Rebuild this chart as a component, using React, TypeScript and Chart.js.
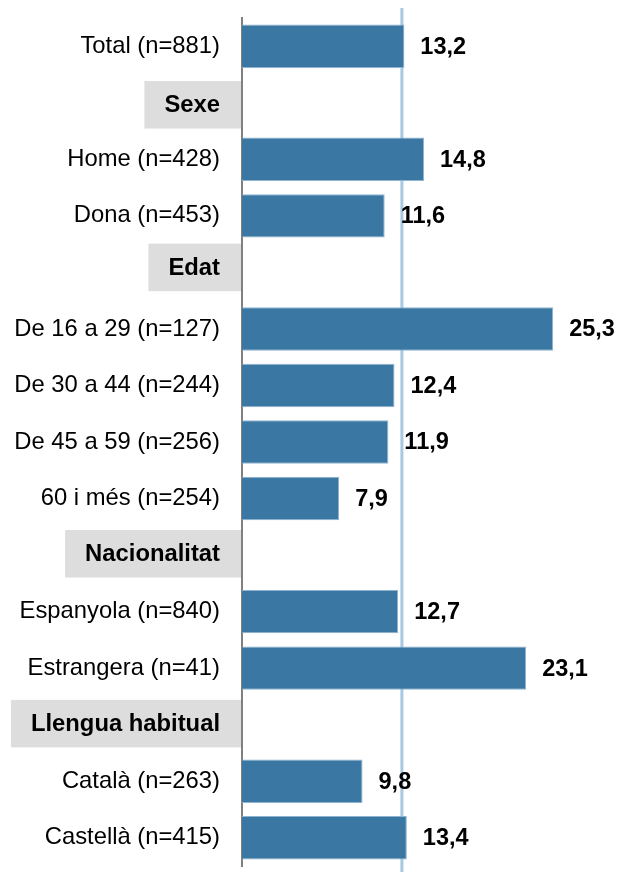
import React, { useEffect, useRef } from "react";
import { Chart, registerables } from "chart.js";

Chart.register(...registerables);

const categories = [
  "Total (n=881)",
  "Sexe",
  "Home (n=428)",
  "Dona (n=453)",
  "Edat",
  "De 16 a 29 (n=127)",
  "De 30 a 44 (n=244)",
  "De 45 a 59 (n=256)",
  "60 i més (n=254)",
  "Nacionalitat",
  "Espanyola (n=840)",
  "Estrangera (n=41)",
  "Llengua habitual",
  "Català (n=263)",
  "Castellà (n=415)",
];

const values: (number | null)[] = [
  13.2, null, 14.8, 11.6, null, 25.3, 12.4, 11.9, 7.9, null, 12.7, 23.1, null, 9.8, 13.4,
];

const sectionHeaders = ["Sexe", "Edat", "Nacionalitat", "Llengua habitual"];
const referenceValue = 13.0;
const xMin = 0;
const xMax = 30;

// styling / layout constants
const FONT = "'Liberation Sans', Arial, Helvetica, sans-serif";
const FONT_SIZE = 23.8;
const VALUE_FONT_SIZE = 23.5;
const TICK_PAD = 22;
const AXIS_WIDTH = 242;
const HEADER_BOX_H = 47.5;
const HEADER_BOX_SHIFT = [2, -5, -1.3, -1];

export default function App() {
  const ref = useRef<HTMLCanvasElement>(null);

  useEffect(() => {
    const canvas = ref.current!;
    const isHeader = (i: number) => sectionHeaders.includes(categories[i]);

    const headerBoxes = {
      id: "headerBoxes",
      beforeDraw(chart: any) {
        const ctx = chart.ctx;
        const yScale = chart.scales.y;
        const left = chart.chartArea.left;
        ctx.save();
        ctx.font = `bold ${FONT_SIZE}px ${FONT}`;
        ctx.textAlign = "right";
        ctx.textBaseline = "middle";
        categories.forEach((c, i) => {
          const h = sectionHeaders.indexOf(c);
          if (h < 0) return;
          const cy = yScale.getPixelForValue(i) + HEADER_BOX_SHIFT[h];
          const w = ctx.measureText(c).width;
          const textRight = left - TICK_PAD;
          const x0 = textRight - w - 20;
          ctx.fillStyle = "#dddddd";
          ctx.fillRect(x0, cy - HEADER_BOX_H / 2, left - x0, HEADER_BOX_H);
          ctx.fillStyle = "#000000";
          ctx.fillText(c, textRight, cy + 1);
        });
        ctx.restore();
      },
    };

    const refLine = {
      id: "refLine",
      beforeDatasetsDraw(chart: any) {
        const ctx = chart.ctx;
        const x = chart.scales.x.getPixelForValue(referenceValue);
        ctx.save();
        ctx.strokeStyle = "#a9c9e3";
        ctx.lineWidth = 3;
        ctx.beginPath();
        ctx.moveTo(x, 8);
        ctx.lineTo(x, chart.height);
        ctx.stroke();
        ctx.restore();
      },
    };

    const valueLabels = {
      id: "valueLabels",
      afterDatasetsDraw(chart: any) {
        const ctx = chart.ctx;
        const meta = chart.getDatasetMeta(0);
        ctx.save();
        ctx.font = `bold ${VALUE_FONT_SIZE}px ${FONT}`;
        ctx.fillStyle = "#000000";
        ctx.textAlign = "left";
        ctx.textBaseline = "middle";
        meta.data.forEach((bar: any, i: number) => {
          const v = values[i];
          if (v == null) return;
          ctx.fillText(v.toFixed(1).replace(".", ","), bar.x + 16, bar.y + 1);
        });
        ctx.restore();
      },
    };

    const chart = new Chart(canvas, {
      type: "bar",
      data: {
        labels: categories,
        datasets: [
          {
            data: values as any,
            backgroundColor: "#3a77a2",
            borderColor: "#8fb3d0",
            borderWidth: { top: 1, bottom: 1, right: 1, left: 0 },
            barPercentage: 0.768,
            categoryPercentage: 1,
          },
        ],
      },
      options: {
        indexAxis: "y",
        animation: false,
        responsive: false,
        devicePixelRatio: 1,
        layout: { padding: { top: 18, bottom: 6, right: 8, left: 0 } },
        plugins: {
          legend: { display: false },
          tooltip: { enabled: false },
        },
        scales: {
          x: {
            display: false,
            min: xMin,
            max: xMax,
          },
          y: {
            afterFit(scale: any) {
              scale.width = AXIS_WIDTH;
              scale.paddingTop = 0;
              scale.paddingBottom = 0;
            },
            grid: { display: false, drawTicks: false },
            border: { display: true, color: "#808080", width: 2 },
            ticks: {
              autoSkip: false,
              padding: TICK_PAD,
              color: (ctx: any) => (isHeader(ctx.index) ? "rgba(0,0,0,0)" : "#000000"),
              font: {
                family: FONT,
                size: FONT_SIZE,
              },
            },
          },
        },
      },
      plugins: [headerBoxes, refLine, valueLabels],
    });

    return () => chart.destroy();
  }, []);

  return (
    <div style={{ position: "absolute", left: 0, top: 0, width: 619, height: 872, background: "#ffffff" }}>
      <canvas ref={ref} width={619} height={872} style={{ width: 619, height: 872, display: "block" }} />
    </div>
  );
}
